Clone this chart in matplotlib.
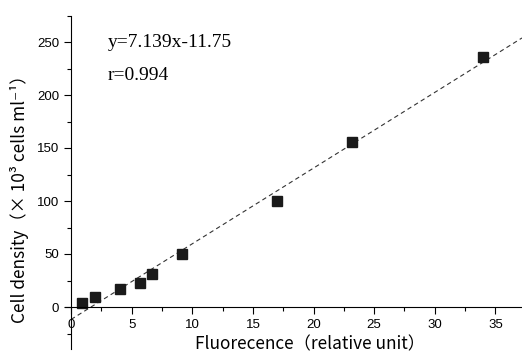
import numpy as np
import matplotlib
matplotlib.use('Agg')
import matplotlib.pyplot as plt
from matplotlib.ticker import MultipleLocator

# measured points
fluor = [0.9, 2.0, 4.0, 5.65, 6.7, 9.15, 17.0, 23.2, 34.0]
density = [4, 9, 17, 23, 31, 50, 100, 156, 236]

# regression
slope = 7.139
intercept = -11.75
fit_x = [0, 37.2]

plt.rcParams['font.family'] = ['Liberation Sans', 'DejaVu Sans']
cjk = ['Noto Sans CJK JP', 'DejaVu Sans']

fig = plt.figure(figsize=(5.22, 3.56), dpi=100)
ax = fig.add_axes([65 / 522, (356 - 349.4) / 356, 457 / 522, (349.4 - 15.5) / 356])

ax.plot(fit_x, [slope * x + intercept for x in fit_x], '--', color='#333333',
        lw=0.8, dashes=(4, 3))
ax.plot(fluor, density, 's', color='#1a1a1a', markersize=7)

ax.set_xlim(-0.5, 37.2)
ax.set_ylim(-40, 275)
ax.spines['left'].set_position(('data', 0))
ax.spines['bottom'].set_position(('data', 0))
ax.spines['top'].set_visible(False)
ax.spines['right'].set_visible(False)

ax.xaxis.set_major_locator(MultipleLocator(5))
ax.xaxis.set_minor_locator(MultipleLocator(2.5))
ax.yaxis.set_major_locator(MultipleLocator(50))
ax.yaxis.set_minor_locator(MultipleLocator(25))
ax.set_yticks([0, 50, 100, 150, 200, 250])
ax.tick_params(which='major', length=5, width=0.8, labelsize=9.5, direction='out')
ax.tick_params(which='minor', length=3, width=0.8, direction='out')

ax.text(3.0, 250, 'y=7.139x-11.75', family='Liberation Serif', fontsize=14, va='center')
ax.text(3.0, 218, 'r=0.994', family='Liberation Serif', fontsize=14, va='center')

fig.text(310 / 522, 1 - 344 / 356, 'Fluorecence\uff08relative unit\uff09', ha='center',
         va='center', fontsize=12.4, family=cjk)
fig.text(20 / 522, 1 - 195 / 356, 'Cell density\uff08\u00d7 10\u00b3 cells ml\u207b\u00b9\uff09',
         rotation=90, ha='center', va='center', fontsize=12.4, family=cjk)

fig.savefig('out.png', dpi=100)
